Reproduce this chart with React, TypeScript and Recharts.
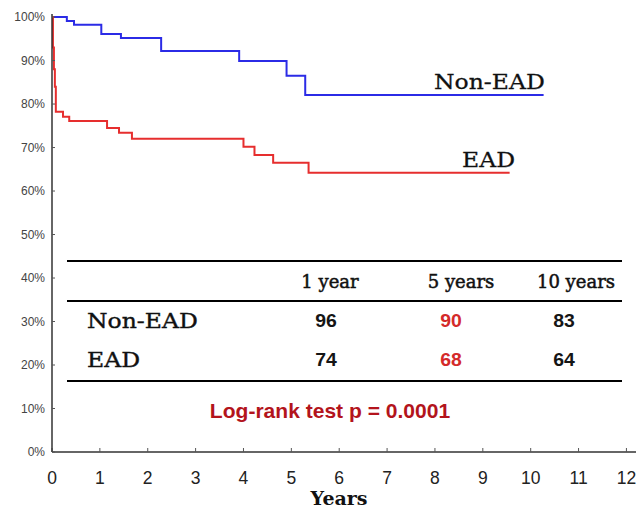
import React from "react";
import { Line, LineChart, XAxis, YAxis } from "recharts";

// Kaplan-Meier steps (years, % surviving)
const nonEadTime = [0, 0.31, 0.46, 1.03, 1.44, 2.28, 3.91, 4.9, 5.29, 10.27];
const nonEadSurv = [100, 99.1, 98.2, 96.1, 95.2, 92.2, 89.9, 86.5, 82.1, 82.1];

const eadTime = [0, 0.02, 0.04, 0.06, 0.08, 0.23, 0.36, 1.15, 1.4, 1.67, 4.0, 4.23, 4.62, 5.36, 9.56];
const eadSurv = [100, 93, 88, 84, 78.2, 77.1, 76.1, 74.5, 73.4, 72.0, 70.2, 68.3, 66.5, 64.2, 64.2];

const xTicks = [0, 1, 2, 3, 4, 5, 6, 7, 8, 9, 10, 11, 12];
const yTicks = [0, 10, 20, 30, 40, 50, 60, 70, 80, 90, 100];
const topTicks = [0.37, 1.71, 3.05, 4.39, 5.73, 7.07, 8.41, 9.75, 11.09];

const tableHeaders = ["1 year", "5 years", "10 years"];
const tableRows = ["Non-EAD", "EAD"];
const nonEadRates = [96, 90, 83];
const eadRates = [74, 68, 64];
const pValueText = "Log-rank test p = 0.0001";

const nonEadData = nonEadTime.map((t, i) => ({ t, s: nonEadSurv[i] }));
const eadData = eadTime.map((t, i) => ({ t, s: eadSurv[i] }));

const SERIF = "'DejaVu Serif', serif";
const SANS = "'Liberation Sans', Arial, sans-serif";

const colX = [330, 461, 576];
const rowY = [327, 366];
const numX = [326, 451, 564];

function Txt({ x, y, sx = 1, anchor = "start", children, ...rest }: any) {
  return (
    <g transform={`translate(${x},${y}) scale(${sx},1)`}>
      <text x={0} y={0} textAnchor={anchor} {...rest}>
        {children}
      </text>
    </g>
  );
}

function Overlay() {
  const rates = [nonEadRates, eadRates];
  return (
    <svg
      width={636}
      height={510}
      style={{ position: "absolute", left: 0, top: 0, pointerEvents: "none" }}
    >
      <Txt x={434} y={89} sx={1.12} fontFamily={SERIF} fontSize={21} fill="#111" stroke="#111" strokeWidth={0.3}>
        Non-EAD
      </Txt>
      <Txt x={462} y={167} sx={1.12} fontFamily={SERIF} fontSize={21} fill="#111" stroke="#111" strokeWidth={0.3}>
        EAD
      </Txt>

      {[261, 301, 381].map((y) => (
        <line key={y} x1={67} x2={622} y1={y} y2={y} stroke="#000" strokeWidth={2} />
      ))}
      {tableHeaders.map((h, i) => (
        <Txt
          key={h}
          x={colX[i]}
          y={288}
          anchor="middle"
          fontFamily={SERIF}
          fontSize={18}
          fill="#111"
          stroke="#111"
          strokeWidth={0.5}
        >
          {h}
        </Txt>
      ))}
      {tableRows.map((r, j) => (
        <React.Fragment key={r}>
          <Txt
            x={87}
            y={rowY[j] + 1}
            sx={1.12}
            fontFamily={SERIF}
            fontSize={21}
            fill="#111"
            stroke="#111"
            strokeWidth={0.4}
          >
            {r}
          </Txt>
          {rates[j].map((v, i) => (
            <Txt
              key={i}
              x={numX[i]}
              y={rowY[j]}
              sx={1.05}
              anchor="middle"
              fontFamily={SANS}
              fontWeight="bold"
              fontSize={18.5}
              fill={i === 1 ? "#d42a2a" : "#151515"}
            >
              {v}
            </Txt>
          ))}
        </React.Fragment>
      ))}
      <Txt x={330} y={418} sx={1.08} anchor="middle" fontFamily={SANS} fontWeight="bold" fontSize={19.5} fill="#b3141c">
        {pValueText}
      </Txt>
      <Txt x={339} y={505} anchor="middle" fontFamily={SERIF} fontWeight="bold" fontSize={19} fill="#111">
        Years
      </Txt>
    </svg>
  );
}

export default function App() {
  return (
    <div style={{ position: "absolute", left: 0, top: 0, width: 636, height: 510, background: "#fff" }}>
      <LineChart width={636} height={510} margin={{ top: 14, right: 0, bottom: 0, left: 8 }}>
        <XAxis
          dataKey="t"
          type="number"
          domain={[0, 12.2]}
          ticks={xTicks}
          allowDataOverflow
          height={58}
          tickSize={-4}
          tickMargin={24}
          tick={{ fill: "#222", fontSize: 17.5, fontFamily: SANS }}
          axisLine={{ stroke: "#333", strokeWidth: 1.5 }}
          tickLine={{ stroke: "#555" }}
        />
        <XAxis
          xAxisId="top"
          orientation="top"
          type="number"
          domain={[0, 12.2]}
          ticks={topTicks}
          height={0}
          tickSize={-4}
          tick={false}
          axisLine={{ stroke: "#333", strokeWidth: 1.5 }}
          tickLine={{ stroke: "#555" }}
        />
        <YAxis
          type="number"
          domain={[0, 100.7]}
          ticks={yTicks}
          allowDataOverflow
          width={44}
          tickSize={-3}
          tickMargin={10}
          tickFormatter={(v: number) => `${v}%`}
          tick={{ fill: "#444", fontSize: 12, fontFamily: SANS }}
          axisLine={{ stroke: "#333", strokeWidth: 1.5 }}
          tickLine={{ stroke: "#555" }}
        />
        <Line
          data={nonEadData}
          dataKey="s"
          type="stepAfter"
          stroke="#2b2be6"
          strokeWidth={2}
          dot={false}
          isAnimationActive={false}
        />
        <Line
          data={eadData}
          dataKey="s"
          type="stepAfter"
          stroke="#e62e2e"
          strokeWidth={2}
          dot={false}
          isAnimationActive={false}
        />
      </LineChart>
      <Overlay />
    </div>
  );
}
